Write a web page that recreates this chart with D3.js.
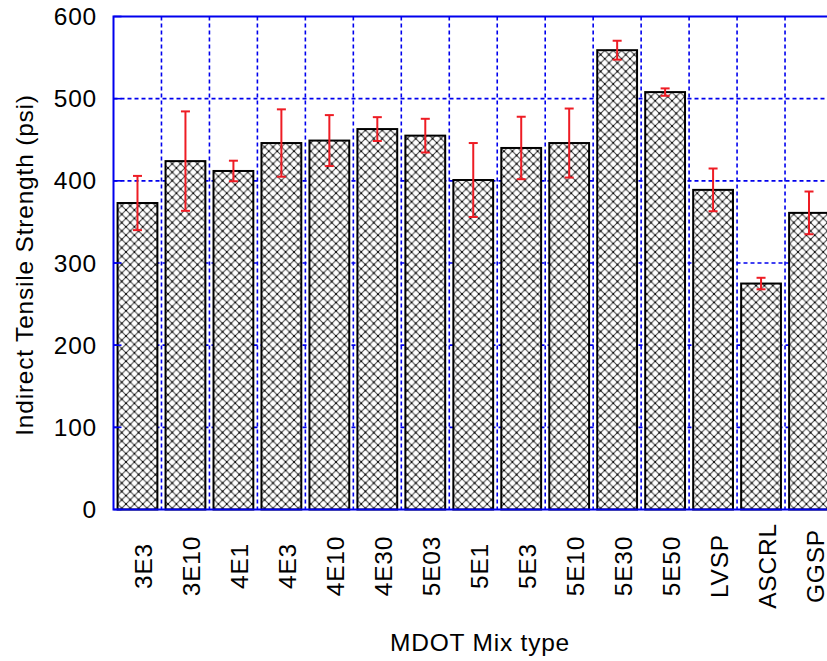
<!DOCTYPE html>
<html>
<head>
<meta charset="utf-8">
<script src="https://cdn.jsdelivr.net/npm/d3@7"></script>
<style>
  body { margin: 0; background: #fff; }
  svg { display: block; }
  text { font-family: "Liberation Sans", Arial, Helvetica, sans-serif; fill: #000; }
</style>
</head>
<body>
<svg id="chart" width="827" height="661"></svg>
<script>
// Mix types and their mean indirect tensile strength (psi) with standard deviation
const categories = ["3E3", "3E10", "4E1", "4E3", "4E10", "4E30", "5E03", "5E1", "5E3", "5E10", "5E30", "5E50", "LVSP", "ASCRL", "GGSP"];
const meanStrength = [373, 424, 412, 446, 449, 463, 455, 401, 440, 446, 559, 508, 389, 275, 361];
const stdDev = [33, 60.5, 12.5, 41, 31, 14.5, 20.5, 45, 38, 42, 11.5, 4.5, 26, 7, 26];
const yTicks = [0, 100, 200, 300, 400, 500, 600];

const data = categories.map((c, i) => ({ cat: c, mean: meanStrength[i], sd: stdDev[i] }));

const svg = d3.select("#chart");
const W = 827, H = 661;
svg.append("rect").attr("width", W).attr("height", H).attr("fill", "#fff");

const plotL = 113.5, plotR = 833, plotT = 16.5, plotB = 509.5;

const x = d3.scaleBand().domain(categories).range([plotL, plotR]).paddingInner(0.17).paddingOuter(0.085);
const y = d3.scaleLinear().domain([0, 600]).range([plotB, plotT]);
const step = x.step();
const gap = step - x.bandwidth();

const blue = "#0000ee";
const red = "#ee1c24";

// Crosshatch fill for the bars: diagonals with dark knots at the crossings
const P = 8.4;
const defs = svg.append("defs");
const pat = defs.append("pattern")
  .attr("id", "xhatch").attr("patternUnits", "userSpaceOnUse")
  .attr("width", P).attr("height", P);
pat.append("rect").attr("width", P).attr("height", P).attr("fill", "#fff");
pat.append("path")
  .attr("d", `M-2,-2 L${P + 2},${P + 2} M${P + 2},-2 L-2,${P + 2}`)
  .attr("stroke", "#404040").attr("stroke-width", 1).attr("fill", "none");
[[0, 0], [P, 0], [0, P], [P, P], [P / 2, P / 2]].forEach(([px, py]) => {
  pat.append("rect").attr("x", px - 0.85).attr("y", py - 0.85).attr("width", 1.7).attr("height", 1.7).attr("fill", "#000");
});

// Grid
const grid = svg.append("g");
grid.selectAll("line.h").data(yTicks.filter(t => t > 0 && t < 600)).join("line")
  .attr("class", "h")
  .attr("x1", plotL).attr("x2", plotR)
  .attr("y1", d => y(d)).attr("y2", d => y(d))
  .attr("stroke", blue).attr("stroke-width", 1.6).attr("stroke-dasharray", "4,3");
grid.selectAll("line.v").data(categories.slice(1)).join("line")
  .attr("class", "v")
  .attr("x1", d => x(d) - gap / 2).attr("x2", d => x(d) - gap / 2)
  .attr("y1", plotT).attr("y2", plotB)
  .attr("stroke", blue).attr("stroke-width", 1.6).attr("stroke-dasharray", "4,3");

// Bars
svg.append("g").selectAll("rect").data(data).join("rect")
  .attr("x", d => x(d.cat)).attr("width", x.bandwidth())
  .attr("y", d => y(d.mean)).attr("height", d => y(0) - y(d.mean))
  .attr("fill", "url(#xhatch)").attr("stroke", "#000").attr("stroke-width", 2);

// Plot frame and ticks
svg.append("rect").attr("x", plotL).attr("y", plotT)
  .attr("width", plotR - plotL).attr("height", plotB - plotT)
  .attr("fill", "none").attr("stroke", blue).attr("stroke-width", 2);
svg.append("g").selectAll("line").data(yTicks).join("line")
  .attr("x1", plotL).attr("x2", plotL + 8)
  .attr("y1", d => y(d)).attr("y2", d => y(d))
  .attr("stroke", blue).attr("stroke-width", 1.6);

// Error bars
const eb = svg.append("g").attr("stroke", red).attr("stroke-width", 2);
data.forEach(d => {
  const cx = x(d.cat) + x.bandwidth() / 2;
  const y1 = y(d.mean + d.sd), y2 = y(d.mean - d.sd);
  eb.append("line").attr("x1", cx).attr("x2", cx).attr("y1", y1).attr("y2", y2);
  eb.append("line").attr("x1", cx - 4.5).attr("x2", cx + 4.5).attr("y1", y1).attr("y2", y1);
  eb.append("line").attr("x1", cx - 4.5).attr("x2", cx + 4.5).attr("y1", y2).attr("y2", y2);
});

// Y tick labels
svg.append("g").selectAll("text").data(yTicks).join("text")
  .attr("x", 97).attr("y", d => y(d)).attr("dy", "0.35em")
  .attr("text-anchor", "end").attr("font-size", 24.5).attr("letter-spacing", 0.8)
  .text(d => d);

// X category labels (rotated)
svg.append("g").selectAll("text").data(categories).join("text")
  .attr("transform", d => `translate(${x(d) + x.bandwidth() / 2 + 15},566) rotate(-90)`)
  .attr("text-anchor", "middle").attr("font-size", 24.5).attr("letter-spacing", 0.8)
  .text(d => d);

// Axis titles
svg.append("text")
  .attr("transform", `translate(33,${(plotT + plotB) / 2 + 2}) rotate(-90)`)
  .attr("text-anchor", "middle").attr("font-size", 24.5).attr("letter-spacing", 0.8)
  .text("Indirect Tensile Strength (psi)");
svg.append("text")
  .attr("x", 480).attr("y", 651)
  .attr("text-anchor", "middle").attr("font-size", 24.5).attr("letter-spacing", 0.8)
  .text("MDOT Mix type");
</script>
</body>
</html>
